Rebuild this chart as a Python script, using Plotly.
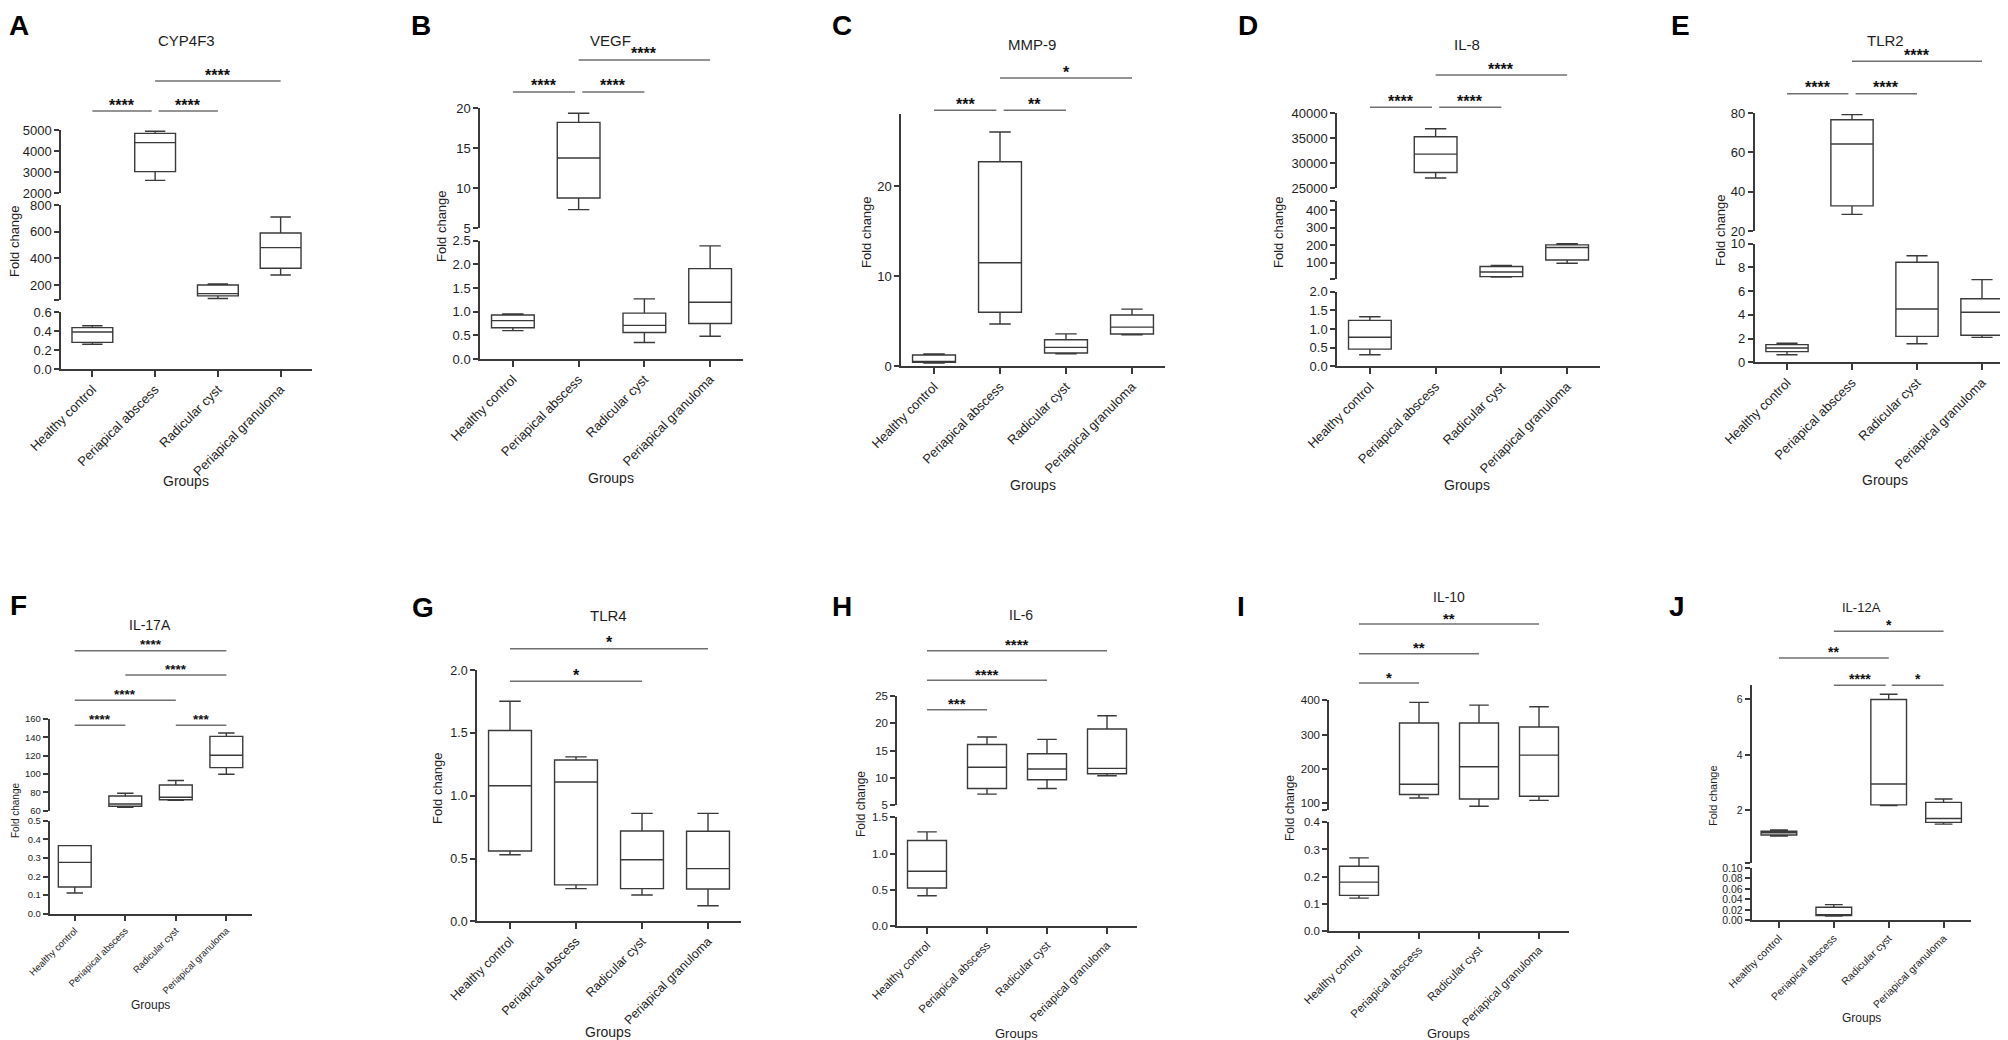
import plotly.graph_objects as go

# ---------------- DATA ----------------
GROUPS = ["Healthy control", "Periapical abscess", "Radicular cyst", "Periapical granuloma"]

# A  CYP4F3
CYP4F3_LOW = [0.26, 2600, 98, 275]
CYP4F3_Q1 = [0.28, 3016, 118, 325]
CYP4F3_MED = [0.39, 4400, 135, 480]
CYP4F3_Q3 = [0.435, 4840, 200, 590]
CYP4F3_HIGH = [0.455, 4937, 207, 710]
CYP4F3_SIG = [(0, 1, "****"), (1, 2, "****"), (1, 3, "****")]
CYP4F3_SEGS = [([0, 0.6], [0, 0.2, 0.4, 0.6], ["0.0", "0.2", "0.4", "0.6"]),
               ([87, 800], [87, 200, 400, 600, 800], ["", "200", "400", "600", "800"]),
               ([2000, 5000], [2000, 3000, 4000, 5000], ["2000", "3000", "4000", "5000"])]

# B  VEGF
VEGF_LOW = [0.6, 7.3, 0.35, 0.48]
VEGF_Q1 = [0.66, 8.75, 0.56, 0.75]
VEGF_MED = [0.81, 13.75, 0.71, 1.20]
VEGF_Q3 = [0.93, 18.2, 0.97, 1.91]
VEGF_HIGH = [0.95, 19.34, 1.27, 2.39]
VEGF_SIG = [(0, 1, "****"), (1, 2, "****"), (1, 3, "****")]
VEGF_SEGS = [([0, 2.5], [0, 0.5, 1, 1.5, 2, 2.5], ["0.0", "0.5", "1.0", "1.5", "2.0", "2.5"]),
             ([5, 20], [5, 10, 15, 20], ["5", "10", "15", "20"])]

# C  MMP-9
MMP9_LOW = [0.37, 4.7, 1.4, 3.5]
MMP9_Q1 = [0.44, 6.0, 1.47, 3.58]
MMP9_MED = [0.5, 11.5, 2.1, 4.35]
MMP9_Q3 = [1.25, 22.7, 2.95, 5.7]
MMP9_HIGH = [1.36, 26.0, 3.6, 6.35]
MMP9_SIG = [(0, 1, "***"), (1, 2, "**"), (1, 3, "*")]
MMP9_SEGS = [([0, 28], [0, 10, 20], ["0", "10", "20"])]

# D  IL-8
IL8_LOW = [0.31, 27000, 20, 98]
IL8_Q1 = [0.46, 28100, 22, 117]
IL8_MED = [0.78, 31800, 48, 188]
IL8_Q3 = [1.23, 35300, 80, 203]
IL8_HIGH = [1.33, 36900, 85, 209]
IL8_SIG = [(0, 1, "****"), (1, 2, "****"), (1, 3, "****")]
IL8_SEGS = [([0, 2], [0, 0.5, 1, 1.5, 2], ["0.0", "0.5", "1.0", "1.5", "2.0"]),
            ([10, 455], [10, 100, 200, 300, 400, 455], ["", "100", "200", "300", "400", ""]),
            ([25000, 40000], [25000, 30000, 35000, 40000], ["25000", "30000", "35000", "40000"])]

# E  TLR2
TLR2_LOW = [0.64, 28.6, 1.57, 2.1]
TLR2_Q1 = [0.9, 32.9, 2.19, 2.28]
TLR2_MED = [1.2, 64.3, 4.49, 4.22]
TLR2_Q3 = [1.49, 76.6, 8.43, 5.36]
TLR2_HIGH = [1.6, 79.2, 8.99, 6.97]
TLR2_SIG = [(0, 1, "****"), (1, 2, "****"), (1, 3, "****")]
TLR2_SEGS = [([0, 10], [0, 2, 4, 6, 8, 10], ["0", "2", "4", "6", "8", "10"]),
             ([20, 80], [20, 40, 60, 80], ["20", "40", "60", "80"])]

# F  IL-17A
IL17A_LOW = [0.111, 63.7, 71.3, 99.7]
IL17A_Q1 = [0.1435, 64.8, 72.0, 107]
IL17A_MED = [0.276, 67.3, 74.6, 120.4]
IL17A_Q3 = [0.366, 76, 88, 141]
IL17A_HIGH = [0.366, 79, 93, 144.7]
IL17A_SIG = [(0, 1, "****"), (2, 3, "***"), (0, 2, "****"), (1, 3, "****"), (0, 3, "****")]
IL17A_SEGS = [([0, 0.5], [0, 0.1, 0.2, 0.3, 0.4, 0.5], ["0.0", "0.1", "0.2", "0.3", "0.4", "0.5"]),
              ([60, 160], [60, 80, 100, 120, 140, 160], ["60", "80", "100", "120", "140", "160"])]

# G  TLR4
TLR4_LOW = [0.53, 0.26, 0.21, 0.124]
TLR4_Q1 = [0.56, 0.29, 0.26, 0.257]
TLR4_MED = [1.08, 1.11, 0.49, 0.42]
TLR4_Q3 = [1.52, 1.285, 0.72, 0.717]
TLR4_HIGH = [1.753, 1.31, 0.86, 0.86]
TLR4_SIG = [(0, 2, "*"), (0, 3, "*")]
TLR4_SEGS = [([0, 2], [0, 0.5, 1, 1.5, 2], ["0.0", "0.5", "1.0", "1.5", "2.0"])]

# H  IL-6
IL6_LOW = [0.42, 6.96, 8.0, 10.35]
IL6_Q1 = [0.527, 8.0, 9.6, 10.7]
IL6_MED = [0.757, 11.9, 11.6, 11.7]
IL6_Q3 = [1.18, 16.1, 14.4, 18.96]
IL6_HIGH = [1.30, 17.5, 17.06, 21.4]
IL6_SIG = [(0, 1, "***"), (0, 2, "****"), (0, 3, "****")]
IL6_SEGS = [([0, 1.5], [0, 0.5, 1, 1.5], ["0.0", "0.5", "1.0", "1.5"]),
            ([5, 25], [5, 10, 15, 20, 25], ["5", "10", "15", "20", "25"])]

# I  IL-10
IL10_LOW = [0.121, 115, 91, 108]
IL10_Q1 = [0.131, 125, 112, 120]
IL10_MED = [0.18, 155, 206, 240]
IL10_Q3 = [0.238, 334, 334, 322]
IL10_HIGH = [0.269, 394, 386, 381]
IL10_SIG = [(0, 1, "*"), (0, 2, "**"), (0, 3, "**")]
IL10_SEGS = [([0, 0.4], [0, 0.1, 0.2, 0.3, 0.4], ["0.0", "0.1", "0.2", "0.3", "0.4"]),
             ([80, 400], [80, 100, 200, 300, 400], ["", "100", "200", "300", "400"])]

# J  IL-12A
IL12A_LOW = [1.08, 0.008, 2.18, 1.51]
IL12A_Q1 = [1.12, 0.009, 2.2, 1.57]
IL12A_MED = [1.2, 0.0105, 2.95, 1.71]
IL12A_Q3 = [1.25, 0.025, 5.99, 2.29]
IL12A_HIGH = [1.30, 0.03, 6.18, 2.41]
IL12A_SIG = [(1, 2, "****"), (2, 3, "*"), (0, 2, "**"), (1, 3, "*")]
IL12A_SEGS = [([0, 0.1], [0, 0.02, 0.04, 0.06, 0.08, 0.10], ["0.00", "0.02", "0.04", "0.06", "0.08", "0.10"]),
              ([0.1, 6.5], [0.1, 2, 4, 6], ["", "2", "4", "6"])]

# ---------------- LAYOUT (pixel geometry) ----------------
PANELS = [
    dict(letter="A", title="CYP4F3", stats=(CYP4F3_LOW, CYP4F3_Q1, CYP4F3_MED, CYP4F3_Q3, CYP4F3_HIGH),
         sig=CYP4F3_SIG, segs=CYP4F3_SEGS,
         x0=53, x1=304, seg_px=[(361, 304), (292, 197), (185, 122)], sig_y=[103, 103, 73],
         title_xy=(178, 32), letter_xy=(11, 13), ylab_xy=(7, 233), xlab_xy=(178, 473),
         tick=13, ylab=13, xlab=14, tfont=15, star=16),
    dict(letter="B", title="VEGF", stats=(VEGF_LOW, VEGF_Q1, VEGF_MED, VEGF_Q3, VEGF_HIGH),
         sig=VEGF_SIG, segs=VEGF_SEGS,
         x0=472, x1=735, seg_px=[(351, 232.7), (220, 100)], sig_y=[84, 84, 52],
         title_xy=(602, 32), letter_xy=(413, 15), ylab_xy=(433, 218), xlab_xy=(603, 470),
         tick=13, ylab=13, xlab=14, tfont=15, star=16),
    dict(letter="C", title="MMP-9", stats=(MMP9_LOW, MMP9_Q1, MMP9_MED, MMP9_Q3, MMP9_HIGH),
         sig=MMP9_SIG, segs=MMP9_SEGS,
         x0=893, x1=1157, seg_px=[(358.3, 106)], sig_y=[102.3, 102.3, 70],
         title_xy=(1024, 37), letter_xy=(834, 15), ylab_xy=(858, 224), xlab_xy=(1025, 477),
         tick=13, ylab=13, xlab=14, tfont=15, star=16),
    dict(letter="D", title="IL-8", stats=(IL8_LOW, IL8_Q1, IL8_MED, IL8_Q3, IL8_HIGH),
         sig=IL8_SIG, segs=IL8_SEGS,
         x0=1329, x1=1592, seg_px=[(358.3, 283.7), (270.7, 192.7), (180, 105.3)], sig_y=[99.3, 99.3, 67],
         title_xy=(1459, 37), letter_xy=(1240, 15), ylab_xy=(1270, 224), xlab_xy=(1459, 477),
         tick=13, ylab=13, xlab=14, tfont=15, star=16),
    dict(letter="E", title="TLR2", stats=(TLR2_LOW, TLR2_Q1, TLR2_MED, TLR2_Q3, TLR2_HIGH),
         sig=TLR2_SIG, segs=TLR2_SEGS,
         x0=1746.5, x1=2006.5, seg_px=[(354.3, 235.7), (223.3, 105)], sig_y=[85.7, 85.7, 53.3],
         title_xy=(1877, 32), letter_xy=(1672, 15), ylab_xy=(1712, 222), xlab_xy=(1877, 472),
         tick=13, ylab=13, xlab=14, tfont=15, star=16),
    dict(letter="F", title="IL-17A", stats=(IL17A_LOW, IL17A_Q1, IL17A_MED, IL17A_Q3, IL17A_HIGH),
         sig=IL17A_SIG, segs=IL17A_SEGS,
         x0=41.5, x1=243.6, seg_px=[(905.7, 812.7), (802.7, 711)], sig_y=[717.3, 717.3, 692.3, 667, 642.7],
         title_xy=(142, 617), letter_xy=(10, 595), ylab_xy=(7, 803), xlab_xy=(142, 997),
         tick=9.5, ylab=10, xlab=12, tfont=14, star=13.5),
    dict(letter="G", title="TLR4", stats=(TLR4_LOW, TLR4_Q1, TLR4_MED, TLR4_Q3, TLR4_HIGH),
         sig=TLR4_SIG, segs=TLR4_SEGS,
         x0=469, x1=733, seg_px=[(913.3, 662.3)], sig_y=[673.3, 640.7],
         title_xy=(600, 607), letter_xy=(415, 597), ylab_xy=(429, 780), xlab_xy=(600, 1032),
         tick=12.5, ylab=13, xlab=14, tfont=15, star=16),
    dict(letter="H", title="IL-6", stats=(IL6_LOW, IL6_Q1, IL6_MED, IL6_Q3, IL6_HIGH),
         sig=IL6_SIG, segs=IL6_SEGS,
         x0=889, x1=1129, seg_px=[(918.3, 809.3), (796.7, 688.3)], sig_y=[701.7, 672.3, 642.7],
         title_xy=(1013, 607), letter_xy=(834, 596), ylab_xy=(853, 796), xlab_xy=(1008, 1025),
         tick=11.5, ylab=12, xlab=13, tfont=14, star=15),
    dict(letter="I", title="IL-10", stats=(IL10_LOW, IL10_Q1, IL10_MED, IL10_Q3, IL10_HIGH),
         sig=IL10_SIG, segs=IL10_SEGS,
         x0=1321, x1=1561, seg_px=[(923, 814.3), (802, 692.3)], sig_y=[675, 645.7, 616],
         title_xy=(1441, 589), letter_xy=(1233, 596), ylab_xy=(1282, 800), xlab_xy=(1440, 1030),
         tick=11.5, ylab=12, xlab=13, tfont=14, star=15),
    dict(letter="J", title="IL-12A", stats=(IL12A_LOW, IL12A_Q1, IL12A_MED, IL12A_Q3, IL12A_HIGH),
         sig=IL12A_SIG, segs=IL12A_SEGS,
         x0=1743.5, x1=1963, seg_px=[(912.3, 860), (855.3, 677.3)], sig_y=[677.3, 677.3, 650, 623.3],
         title_xy=(1853, 599), letter_xy=(1669, 596), ylab_xy=(1705, 788), xlab_xy=(1853, 1010),
         tick=10.5, ylab=11, xlab=12, tfont=13, star=14),
]

W, H = 2008, 1040
FONT = "Liberation Sans, Arial, Helvetica, sans-serif"
LINE = "#3a3a3a"
SIGC = "#707070"
TXT = "#1e1e1e"


def fx(px):
    return px / W


def fy(py):
    return 1 - py / H


fig = go.Figure()
layout_axes = {}
annotations = []
shapes = []
xi = 0
yi = 0

for p in PANELS:
    xi += 1
    xname = "x" if xi == 1 else f"x{xi}"
    xkey = "xaxis" if xi == 1 else f"xaxis{xi}"
    yfirst = "y" if yi + 1 == 1 else f"y{yi + 1}"
    layout_axes[xkey] = dict(
        domain=[fx(p["x0"]), fx(p["x1"])], anchor=yfirst, type="category",
        categoryorder="array", categoryarray=GROUPS, range=[-0.5, 3.5], automargin=False,
        showline=True, linecolor=LINE, linewidth=1.5, ticks="outside", ticklen=6,
        tickcolor=LINE, tickwidth=1.5, tickangle=-45, showgrid=False, zeroline=False,
        tickfont=dict(family=FONT, size=p["tick"], color=TXT), fixedrange=True,
    )
    low, q1, med, q3, high = p["stats"]
    for (rng, tv, tt), (pb, pt) in zip(p["segs"], p["seg_px"]):
        yi += 1
        yname = "y" if yi == 1 else f"y{yi}"
        ykey = "yaxis" if yi == 1 else f"yaxis{yi}"
        layout_axes[ykey] = dict(
            domain=[fy(pb), fy(pt)], anchor=xname, range=rng, tickvals=tv, ticktext=tt,
            automargin=False,
            showline=True, linecolor=LINE, linewidth=1.5, ticks="outside", ticklen=5,
            tickcolor=LINE, tickwidth=1.5, showgrid=False, zeroline=False,
            tickfont=dict(family=FONT, size=p["tick"], color=TXT), fixedrange=True,
        )
        fig.add_trace(go.Box(
            x=GROUPS, q1=q1, median=med, q3=q3, lowerfence=low, upperfence=high,
            xaxis=xname, yaxis=yname, width=0.65, whiskerwidth=0.5,
            fillcolor="rgba(0,0,0,0)", line=dict(color=LINE, width=1.4),
            boxpoints=False, showlegend=False, hoverinfo="skip",
        ))

    # significance bars
    for k, (i, j, lab) in enumerate(p["sig"]):
        ly = p["sig_y"][k]
        left, right = float(i), float(j)
        for m, (i2, j2, _) in enumerate(p["sig"]):
            if m == k or abs(p["sig_y"][m] - ly) > 1:
                continue
            if i in (i2, j2):
                left += 0.055
            if j in (i2, j2):
                right -= 0.055
        shapes.append(dict(type="line", xref=xname, yref="paper", x0=left, x1=right,
                           y0=fy(ly), y1=fy(ly), line=dict(color=SIGC, width=1.6)))
        annotations.append(dict(xref=xname, yref="paper", x=(left + right) / 2, y=fy(ly - 6),
                                text=f"<b>{lab}</b>", showarrow=False, xanchor="center", yanchor="middle",
                                font=dict(family=FONT, size=p["star"], color="#111")))

    # texts
    tx, ty = p["title_xy"]
    annotations.append(dict(xref="paper", yref="paper", x=fx(tx), y=fy(ty), text=p["title"],
                            showarrow=False, xanchor="center", yanchor="middle",
                            font=dict(family=FONT, size=p["tfont"], color=TXT)))
    lx, ly = p["letter_xy"]
    annotations.append(dict(xref="paper", yref="paper", x=fx(lx), y=fy(max(0.0, ly - 15)),
                            text=f"<b>{p['letter']}</b>",
                            showarrow=False, xanchor="center", yanchor="top",
                            font=dict(family=FONT, size=28, color="#000")))
    yx, yy = p["ylab_xy"]
    annotations.append(dict(xref="paper", yref="paper", x=fx(yx), y=fy(yy), text="Fold change",
                            textangle=-90, showarrow=False, xanchor="center", yanchor="middle",
                            font=dict(family=FONT, size=p["ylab"], color=TXT)))
    gx, gy = p["xlab_xy"]
    gy = min(gy, H - 2 - p["xlab"] * 1.0)
    annotations.append(dict(xref="paper", yref="paper", x=fx(gx), y=fy(gy), text="Groups",
                            showarrow=False, xanchor="center", yanchor="middle",
                            font=dict(family=FONT, size=p["xlab"], color=TXT)))

fig.update_layout(
    width=W, height=H, autosize=False,
    margin=dict(l=0, r=0, t=0, b=0),
    paper_bgcolor="white", plot_bgcolor="white",
    boxmode="overlay", showlegend=False,
    font=dict(family=FONT, color=TXT),
    annotations=annotations, shapes=shapes,
    **layout_axes,
)

fig.write_html("out.html")
